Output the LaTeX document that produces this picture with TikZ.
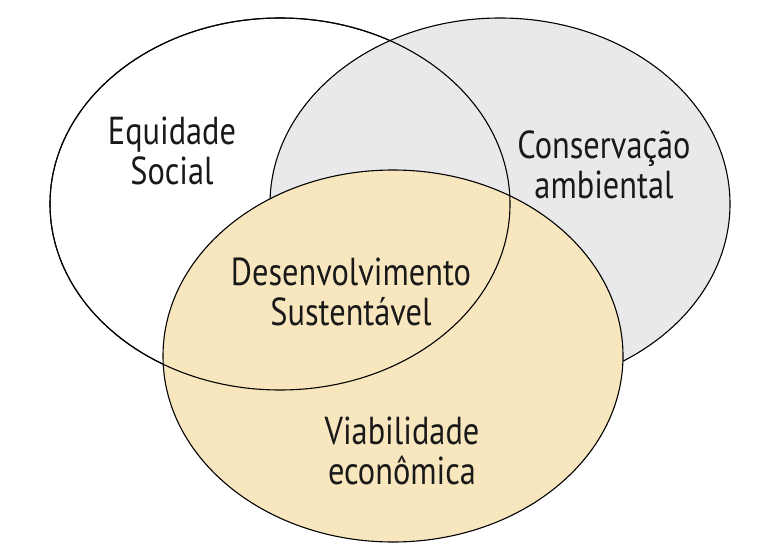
\documentclass[tikz,border=0pt]{standalone}
\usepackage{fontspec}
\setmainfont{PT Sans}[FakeStretch=0.83]
\usetikzlibrary{shapes.geometric}
\definecolor{vngray}{RGB}{233,233,235}
\definecolor{vnsand}{RGB}{248,231,190}

\begin{document}
\begin{tikzpicture}[x=1pt,y=-1pt,font=\fontsize{39}{40}\selectfont,
    ring/.style={draw,ellipse,line width=1.1pt,minimum width=460pt,minimum height=372pt,inner sep=0pt},
    lbl/.style={align=center,text=black!90}]
  \useasboundingbox (0,0) rectangle (762,553);
  % the three circles, back to front
  \node[ring,fill=white] (soc) at (280,204) {};
  \node[ring,fill=vngray] (amb) at (500,204) {};
  \node[ring,fill=vnsand] (eco) at (393,356) {};
  \node[ring] (socline) at (soc.center) {};
  % labels
  \node[lbl] (tsoc) at (172,151) {Equidade\\Social};
  \node[lbl] (tamb) at (604,165) {Conservação\\ambiental};
  \node[lbl] (tds) at (351,292) {Desenvolvimento\\Sustentável};
  \node[lbl] (teco) at (402,451) {Viabilidade\\econômica};
\end{tikzpicture}
\end{document}
